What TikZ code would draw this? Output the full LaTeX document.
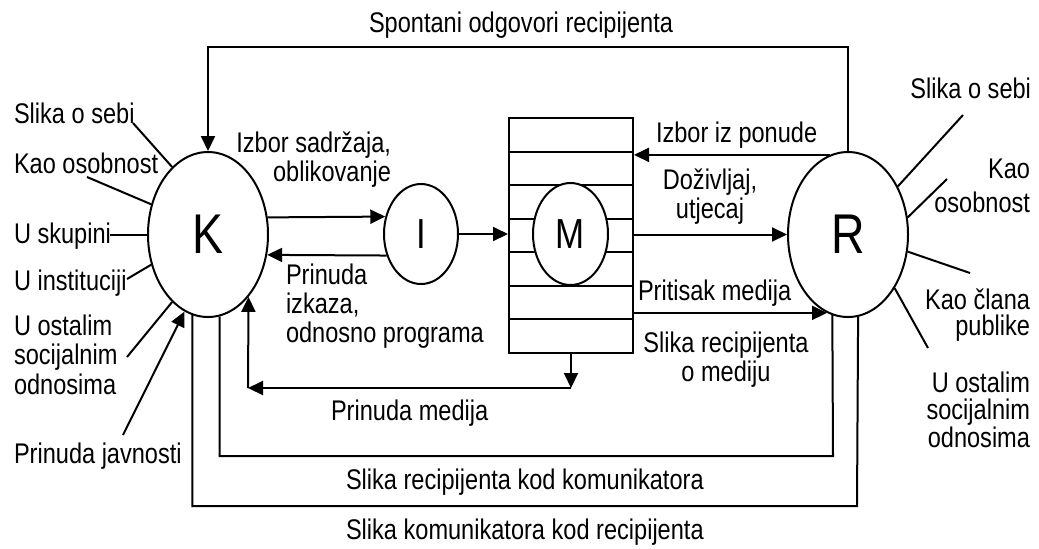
\documentclass[tikz,border=0pt]{standalone}
\usepackage{fontspec}
\setmainfont{Liberation Sans}[FakeStretch=0.83]
\usetikzlibrary{shapes.geometric,arrows.meta,calc}
\newcommand\lblf{\fontsize{14.2pt}{14.5pt}\selectfont}
\newcommand\lblfs[1]{\fontsize{14.2pt}{#1}\selectfont}
\newcommand\bigf{\fontsize{28pt}{30pt}\selectfont}
\newcommand\midf{\fontsize{21pt}{22pt}\selectfont}
\begin{document}
\begin{tikzpicture}[x=0.5pt,y=-0.5pt, line width=1pt,
  >={Triangle[length=7.5pt,width=7pt]},
  lbl/.style={font=\lblf,inner sep=0pt},
  ell/.style={ellipse,draw,fill=white,inner sep=0pt},
  bigell/.style={ell,minimum width=60pt,minimum height=82.5pt,font=\bigf},
  smallell/.style={ell,minimum width=37pt,minimum height=50pt,font=\midf}]
\useasboundingbox (0,0) rectangle (1039,548);

% main nodes
\node[bigell] (K) at (208,234.5) {K};
\node[bigell] (R) at (848,234.5) {R};
\node[smallell] (I) at (421,234) {I};
\node[draw,minimum width=62pt,minimum height=117.5pt,inner sep=0pt] (box) at (571,235.5) {};
\foreach \y in {151.5,185,218.5,252,285.5,319} \draw (509,\y) -- (633,\y);
\node[smallell,minimum width=37.5pt,minimum height=51pt] (M) at (570.5,234) {M};

% connectors between main nodes
\draw[->] (K.16.6) -- (I.154);
\draw[->] (I.212) -- (K.-19.4);
\draw[->] (I.east) -- (I.east -| box.west);
\draw[->] (R.west -| box.east) -- (R.west);
\draw[->] (R.103.2) -- (R.103.2 -| box.east);
\draw[->] (R.255.2 -| box.east) -- (R.255.2);

\coordinate (c4) at (571,388);
\coordinate (c5) at (248,388);
\draw[->] (box.south) -- (c4);
\draw[->] (c4) -- (c5);
\draw[->] (c5) -- (K.-57);

\coordinate (t1) at (848,47);
\draw[->] (R.north) -- (t1) -| (K.north);
\coordinate (b1) at (833,456);
\draw (K.-82.3) |- (b1) -- (R.259.4);
\coordinate (b2) at (857,506);
\draw (K.259.4) |- (b2) -- (R.-83.7);

% left label lines
\coordinate (l1) at (133,123); \draw (l1) -- (K.118.4);
\coordinate (l2) at (87,177);  \draw (l2) -- (K.152.1);
\coordinate (l3) at (110,234.5); \draw (l3) -- (K.west);
\coordinate (l4) at (127,279); \draw (l4) -- (K.208.7);
\coordinate (l5) at (127,357); \draw (l5) -- (K.242.4);
\coordinate (l6) at (123,435); \draw[->] (l6) -- (K.253.2);

% right label lines
\coordinate (r1) at (963,115); \draw (r1) -- (R.44.2);
\coordinate (r2) at (947,179); \draw (r2) -- (R.16.6);
\coordinate (r3) at (970,273); \draw (r3) -- (R.-16.6);
\coordinate (r4) at (928,348); \draw (r4) -- (R.-49.5);

% left labels
\node[lbl,anchor=base west] (tk1) at (13,123) {Slika o sebi};
\node[lbl,anchor=base west] (tk2) at (13,173) {Kao osobnost};
\node[lbl,anchor=base west] (tk3) at (13,243) {U skupini};
\node[lbl,anchor=base west] (tk4) at (13,290) {U instituciji};
\node[lbl,anchor=base west,align=left,font=\lblfs{14.75pt}] (tk5) at (13,394) {U ostalim\\socijalnim\\odnosima};
\node[lbl,anchor=base west] (tk6) at (13,463) {Prinuda javnosti};

% right labels
\node[lbl,anchor=base east] (tr1) at (1032,98) {Slika o sebi};
\node[lbl,anchor=base east,align=right,font=\lblfs{17pt}] (tr2) at (1031,212) {Kao\\osobnost};
\node[lbl,anchor=base east,align=right,font=\lblfs{12.6pt}] (tr3) at (1031,335) {Kao člana\\publike};
\node[lbl,anchor=base east,align=right,font=\lblfs{13.75pt}] (tr4) at (1031,447) {U ostalim\\socijalnim\\odnosima};

% middle labels
\node[lbl,anchor=base west] (ts) at (368,32) {Spontani odgovori recipijenta};
\node[lbl,anchor=base east,align=right,font=\lblfs{12.5pt}] (t1) at (392,181) {Izbor sadržaja,\\oblikovanje};
\node[lbl,anchor=base west,align=left,font=\lblfs{14.5pt}] (t2) at (285,342) {Prinuda\\izkaza,\\odnosno programa};
\node[lbl,anchor=base west] (t3) at (655,142) {Izbor iz ponude};
\node[lbl,anchor=base,align=center,font=\lblfs{13pt}] (t4) at (710,218) {Doživljaj,\\utjecaj};
\node[lbl,anchor=base west] (t5) at (637,300) {Pritisak medija};
\node[lbl,anchor=base,align=center,font=\lblfs{13pt}] (t6) at (726,381) {Slika recipijenta\\o mediju};
\node[lbl,anchor=base west] (t7) at (330,420) {Prinuda medija};
\node[lbl,anchor=base west] (t8) at (345,489) {Slika recipijenta kod komunikatora};
\node[lbl,anchor=base west] (t9) at (345,539) {Slika komunikatora kod recipijenta};
\end{tikzpicture}
\end{document}
